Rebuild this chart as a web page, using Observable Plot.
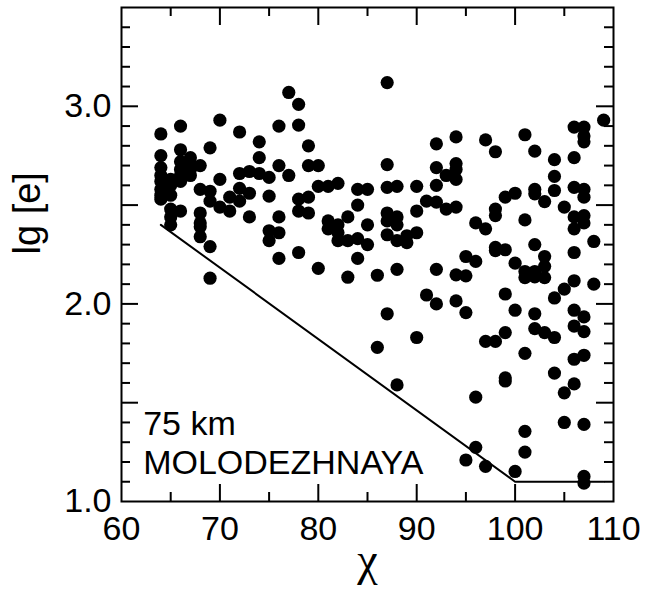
<!DOCTYPE html>
<html>
<head>
<meta charset="utf-8">
<script src="https://cdn.jsdelivr.net/npm/d3@7"></script>
<script src="https://cdn.jsdelivr.net/npm/@observablehq/plot@0.6"></script>
<style>
  html, body { margin: 0; padding: 0; background: #fff; }
  #chart svg { display: block; }
</style>
</head>
<body>
<div id="chart"></div>
<script>
// χ columns and the lg[e] values observed in each column
const chiColumns = [64,65,66,67,68,69,70,71,72,73,74,75,76,77,78,79,80,81,82,83,84,85,86,87,88,89,90,91,92,93,94,95,96,97,98,99,100,101,102,103,104,105,106,107,108,109];
const lgValues = [
  [2.86, 2.75, 2.69, 2.65, 2.62, 2.58, 2.55, 2.53],
  [2.63, 2.60, 2.55, 2.48, 2.44, 2.40],
  [2.90, 2.78, 2.72, 2.68, 2.65, 2.62, 2.47],
  [2.74, 2.71, 2.68, 2.65],
  [2.70, 2.58, 2.46, 2.41, 2.39, 2.34],
  [2.79, 2.57, 2.52, 2.29, 2.13],
  [2.93, 2.63, 2.49],
  [2.54, 2.47],
  [2.87, 2.66, 2.585, 2.52],
  [2.67, 2.56, 2.44],
  [2.82, 2.74, 2.66],
  [2.64, 2.545, 2.37, 2.32],
  [2.90, 2.70, 2.44, 2.36, 2.23],
  [3.07, 2.65],
  [3.01, 2.905, 2.53, 2.47, 2.26],
  [2.80, 2.70, 2.54, 2.46],
  [2.70, 2.595, 2.18],
  [2.595, 2.42, 2.38],
  [2.61, 2.40, 2.36, 2.32],
  [2.44, 2.32, 2.135],
  [2.58, 2.50, 2.33, 2.23],
  [2.58, 2.40, 2.30],
  [2.145, 1.78],
  [3.12, 2.705, 2.59, 2.46, 2.42, 2.35, 1.95],
  [2.595, 2.44, 2.40, 2.32, 2.175, 1.59],
  [2.345, 2.31],
  [2.595, 2.47, 2.36, 1.83],
  [2.52, 2.045],
  [2.81, 2.69, 2.60, 2.515, 2.175, 2.0],
  [2.65, 2.48],
  [2.845, 2.71, 2.68, 2.63, 2.49, 2.147, 2.015],
  [2.24, 2.142, 1.956, 1.21],
  [2.41, 2.215, 1.528, 1.274],
  [2.83, 2.38, 1.81, 1.178],
  [2.77, 2.48, 2.447, 2.286, 2.27, 1.81],
  [2.54, 2.274, 2.05, 1.855, 1.626, 1.61],
  [2.56, 2.206, 1.968, 1.152],
  [2.856, 2.425, 2.164, 2.133, 1.75, 1.355, 1.25],
  [2.773, 2.58, 2.557, 2.30, 2.164, 2.137, 1.95, 1.875],
  [2.518, 2.24, 2.19, 2.133, 1.855],
  [2.73, 2.645, 2.574, 2.03, 1.83, 1.65],
  [2.49, 2.075, 1.55, 1.40],
  [2.895, 2.74, 2.59, 2.44, 2.38, 2.26, 2.117, 1.968, 1.888, 1.72, 1.595],
  [2.895, 2.85, 2.82, 2.58, 2.54, 2.447, 2.41, 1.934, 1.86, 1.74, 1.39, 1.127, 1.093],
  [2.316, 2.10],
  [2.93]
];

// lower boundary line
const boundChi = [64, 100, 109];
const boundLg = [2.40, 1.10, 1.10];

// ticks
const xLabelTicks = [60, 70, 80, 90, 100, 110];
const xMajorTicks = [70, 80, 90, 100];
const xMinorTicks = [65, 75, 85, 95, 105];
const yLabelTicks = [1, 2, 3];
const yMajorTicks = [1.5, 2.0, 2.5, 3.0];
const yMinorTicks = [1.1, 1.2, 1.3, 1.4, 1.6, 1.7, 1.8, 1.9, 2.1, 2.2, 2.3, 2.4, 2.6, 2.7, 2.8, 2.9, 3.1, 3.2, 3.3, 3.4];

const annotLines = ["75 km", "MOLODEZHNAYA"];
const annotY = [1.39, 1.194];

const points = chiColumns.flatMap((c, i) => lgValues[i].map(v => ({chi: c, lg: v})));
const boundary = boundChi.map((c, i) => ({chi: c, lg: boundLg[i]}));
const annots = annotLines.map((t, i) => ({text: t, chi: 62.2, lg: annotY[i]}));

const W = 645, H = 602;
const mL = 121, mR = 32, mT = 7, mB = 101;
const innerW = W - mL - mR, innerH = H - mT - mB;
const sans = "Liberation Sans, Arial, Helvetica, sans-serif";

const chart = Plot.plot({
  width: W,
  height: H,
  marginLeft: mL,
  marginRight: mR,
  marginTop: mT,
  marginBottom: mB,
  style: {background: "#fff", color: "#000", fontFamily: sans},
  x: {domain: [60, 110]},
  y: {domain: [1, 3.5]},
  marks: [
    Plot.line(boundary, {x: "chi", y: "lg", stroke: "#000", strokeWidth: 2}),
    Plot.dot(points, {x: "chi", y: "lg", r: 6.6, fill: "#000", stroke: "none"}),
    // inward ticks
    Plot.ruleX(xMajorTicks, {insetTop: innerH - 17, stroke: "#000", strokeWidth: 2}),
    Plot.ruleX(xMinorTicks, {insetTop: innerH - 9, stroke: "#000", strokeWidth: 2}),
    Plot.ruleX(xMajorTicks, {insetBottom: innerH - 18, stroke: "#000", strokeWidth: 2}),
    Plot.ruleX(xMinorTicks, {insetBottom: innerH - 9, stroke: "#000", strokeWidth: 2}),
    Plot.ruleY(yMajorTicks, {insetRight: innerW - 17, stroke: "#000", strokeWidth: 2}),
    Plot.ruleY(yMinorTicks, {insetRight: innerW - 9, stroke: "#000", strokeWidth: 2}),
    Plot.ruleY(yMajorTicks, {insetLeft: innerW - 17, stroke: "#000", strokeWidth: 2}),
    Plot.ruleY(yMinorTicks, {insetLeft: innerW - 9, stroke: "#000", strokeWidth: 2}),
    Plot.frame({stroke: "#000", strokeWidth: 2}),
    Plot.axisX({ticks: xLabelTicks, tickSize: 0, tickPadding: 14, fontSize: 34, label: null, tickFormat: d => String(d), fill: "#000"}),
    Plot.axisY({ticks: yLabelTicks, tickSize: 0, tickPadding: 10, fontSize: 34, label: null, tickFormat: d3.format(".1f"), fill: "#000"}),
    Plot.text(annots, {x: "chi", y: "lg", text: "text", textAnchor: "start", fontSize: 34, fill: "#000"}),
    Plot.text(["χ"], {frameAnchor: "bottom", dy: 73, fontSize: 46, fontFamily: "Liberation Serif, Times New Roman, serif", fill: "#000"}),
    Plot.text(["lg [e]"], {frameAnchor: "left", rotate: -90, dx: -94, fontSize: 38, fill: "#000"})
  ]
});

document.getElementById("chart").appendChild(chart);
</script>
</body>
</html>
